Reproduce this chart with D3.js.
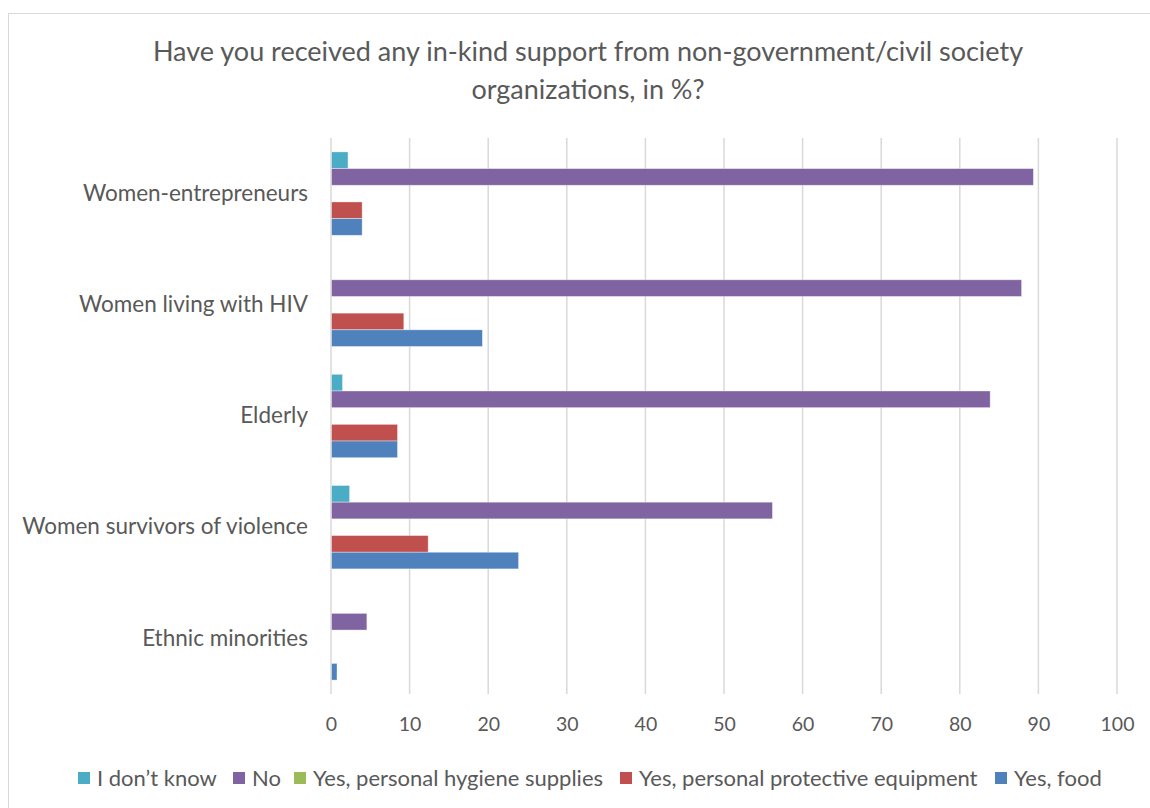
<!DOCTYPE html>
<html>
<head>
<meta charset="utf-8">
<script src="https://cdn.jsdelivr.net/npm/d3@7"></script>
<style>
  html, body { margin: 0; padding: 0; background: #fff; }
  svg text { font-family: Lato, "Open Sans", sans-serif; fill: #595959; }
</style>
</head>
<body>
<svg id="chart" width="1150" height="808"></svg>
<script>
// Respondent groups, top to bottom
const categories = [
  "Women-entrepreneurs",
  "Women living with HIV",
  "Elderly",
  "Women survivors of violence",
  "Ethnic minorities"
];

// Answer options (bar order within each group, top to bottom)
const seriesNames = [
  "I don\u2019t know",
  "No",
  "Yes, personal hygiene supplies",
  "Yes, personal protective equipment",
  "Yes, food"
];
const seriesColors = ["#4bacc6", "#8064a2", "#9bbb59", "#c0504d", "#4f81bd"];

// Shares in %, one array per answer, aligned with categories
const dontKnow   = [2.1, 0,    1.4,  2.3,  0];
const no         = [89.3, 87.8, 83.8, 56.1, 4.5];
const hygiene    = [0,    0,    0,    0,    0];
const ppe        = [3.9,  9.2,  8.4,  12.3, 0];
const food       = [3.9,  19.2, 8.4,  23.8, 0.7];
const seriesValues = [dontKnow, no, hygiene, ppe, food];

const xTicks = [0, 10, 20, 30, 40, 50, 60, 70, 80, 90, 100];

const svg = d3.select("#chart");

// chart frame
svg.append("rect")
  .attr("x", 8.5).attr("y", 13.5)
  .attr("width", 1150).attr("height", 800)
  .attr("fill", "#fff").attr("stroke", "#d9d9d9").attr("stroke-width", 1);

// title
const title = svg.append("text")
  .attr("text-anchor", "middle")
  .style("font-size", "27px");
title.append("tspan").attr("x", 588).attr("y", 61)
  .text("Have you received any in-kind support from non-government/civil society");
title.append("tspan").attr("x", 588).attr("y", 99)
  .text("organizations, in %?");

const plot = { left: 331, right: 1117, top: 138, bottom: 694 };

const x = d3.scaleLinear().domain([0, 100]).range([plot.left, plot.right]);
const y = d3.scaleBand().domain(categories)
  .range([plot.top, plot.bottom]).paddingInner(0.25).paddingOuter(0.125);
const yInner = d3.scaleBand().domain(d3.range(seriesNames.length))
  .range([0, y.bandwidth()]);

// vertical gridlines
svg.append("g").selectAll("line").data(xTicks).join("line")
  .attr("x1", d => x(d)).attr("x2", d => x(d))
  .attr("y1", plot.top).attr("y2", plot.bottom)
  .attr("stroke", "#d9d9d9").attr("stroke-width", 1.5);

// x axis labels
const xAxis = d3.axisBottom(x).tickValues(xTicks).tickSize(0).tickPadding(23);
const gx = svg.append("g").attr("transform", `translate(0,${plot.bottom})`).call(xAxis);
gx.select(".domain").remove();
gx.selectAll("text").style("font-size", "19.5px").attr("fill", "#595959")
  .style("font-family", "Lato, 'Open Sans', sans-serif");

// category labels
const yAxis = d3.axisLeft(y).tickSize(0).tickPadding(23);
const gy = svg.append("g").attr("transform", `translate(${plot.left},0)`).call(yAxis);
gy.select(".domain").remove();
gy.selectAll("text").style("font-size", "22.5px").attr("fill", "#595959")
  .style("font-family", "Lato, 'Open Sans', sans-serif");

// bars
const barData = [];
categories.forEach((c, ci) => {
  seriesValues.forEach((vals, si) => {
    barData.push({ cat: c, s: si, v: vals[ci] });
  });
});
svg.append("g").selectAll("rect").data(barData.filter(d => d.v > 0)).join("rect")
  .attr("x", x(0) + 0.5)
  .attr("y", d => y(d.cat) + yInner(d.s))
  .attr("width", d => x(d.v) - x(0))
  .attr("height", yInner.bandwidth())
  .attr("fill", d => seriesColors[d.s])
  .attr("stroke", "#fff").attr("stroke-opacity", 0.5).attr("stroke-width", 0.75);

// legend
const legendX = [78, 233, 294, 620, 995];
const legend = svg.append("g");
seriesNames.forEach((name, i) => {
  const g = legend.append("g").attr("transform", `translate(${legendX[i]},772)`);
  g.append("rect").attr("width", 12).attr("height", 12).attr("fill", seriesColors[i]);
  g.append("text").attr("x", 19).attr("y", 13.5)
    .style("font-size", "22px").text(name);
});
</script>
</body>
</html>
